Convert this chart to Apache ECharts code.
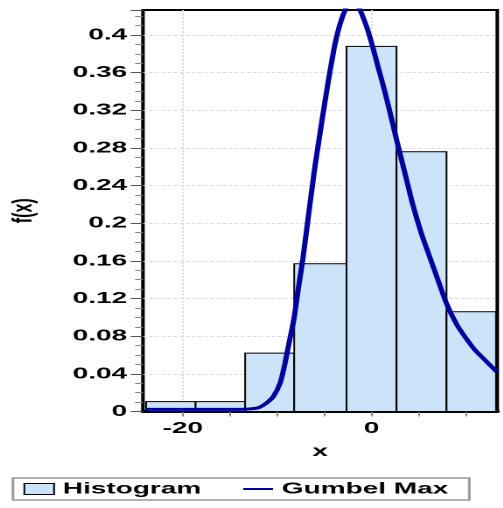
<!DOCTYPE html>
<html><head><meta charset="utf-8">
<script src="https://cdn.jsdelivr.net/npm/echarts@6/dist/echarts.min.js"></script>
<style>
html,body{margin:0;padding:0;background:#fff;overflow:hidden;width:503px;height:508px}
#c{width:287.43px;height:508px;transform:scaleX(1.75);transform-origin:0 0;}
</style>
</head><body><div id="c"></div>
<script>
// ---- data ----
const binEdges = [-23.9, -18.65, -13.4, -8.2, -2.65, 2.65, 7.95, 13.2];
const binDensity = [0.0105, 0.0105, 0.062, 0.157, 0.388, 0.276, 0.106];
const curveX = [-23.9, -18, -15, -13.5, -12.9, -12.0, -11.5, -11.0, -10.4, -9.7, -9.2, -8.7, -8.25, -7.8, -7.27, -6.56, -6.0, -5.3, -4.6, -4.0, -3.5, -2.86, -2.2, -1.45, -0.56, 0.14, 0.67, 1.38, 2.0, 2.7, 3.67, 4.37, 5.26, 6.14, 7.0, 7.94, 9.0, 10.0, 11.0, 12.0, 13.3];
const curveY = [0.0022, 0.0022, 0.0022, 0.0024, 0.0027, 0.004, 0.0065, 0.010, 0.016, 0.030, 0.050, 0.075, 0.097, 0.128, 0.163, 0.218, 0.260, 0.306, 0.350, 0.384, 0.406, 0.425, 0.436, 0.431, 0.410, 0.387, 0.367, 0.341, 0.316, 0.287, 0.248, 0.220, 0.190, 0.165, 0.141, 0.115, 0.093, 0.078, 0.065, 0.055, 0.042];
const xTickValues = [-20, -15, -10, -5, 0, 5, 10];
const xLabelValues = [-20, 0];
const xGridValues = [-20, 0];
const X_MIN = -24.23, X_MAX = 13.33;
const Y_MIN = 0, Y_MAX = 0.4266, Y_STEP = 0.04;
const seriesNames = ['Histogram', 'Gumbel Max'];

const FONT = '"Liberation Sans", Arial, sans-serif';
const BAR_FILL = '#cce4f9';
const LINE_COLOR = '#00009c';
const labelStyle = {fontFamily: FONT, fontSize: 16, fontWeight: 'bold', color: '#000'};

const chart = echarts.init(document.getElementById('c'), null, {renderer: 'canvas', devicePixelRatio: 2});
const histData = binDensity.map((d, i) => [binEdges[i], binEdges[i + 1], d]);
const lineData = curveX.map((x, i) => [x, curveY[i]]);

chart.setOption({
  animation: false,
  backgroundColor: '#fff',
  textStyle: {fontFamily: FONT},
  grid: {left: 81.7, right: 2.86, top: 10, bottom: 96.5, outerBoundsMode: 'none', containLabel: false,
         show: true, borderColor: '#000', borderWidth: 2, backgroundColor: 'transparent'},
  xAxis: [{
    type: 'value', min: X_MIN, max: X_MAX,
    name: 'x', nameLocation: 'middle', nameGap: 32, nameTextStyle: labelStyle,
    axisLine: {onZero: false, lineStyle: {color: '#000', width: 3}},
    axisTick: {show: true, customValues: xTickValues, length: 5, lineStyle: {color: '#888', width: 1}},
    axisLabel: {customValues: xLabelValues, margin: 9, ...labelStyle},
    splitLine: {show: false}
  }, {
    type: 'value', min: X_MIN, max: X_MAX, position: 'bottom',
    axisLine: {show: false, onZero: false},
    axisTick: {show: false, customValues: xGridValues},
    axisLabel: {show: false},
    splitLine: {show: true, lineStyle: {color: '#dcdcdc', type: [2, 1.5], width: 1}}
  }],
  yAxis: {
    type: 'value', min: Y_MIN, max: Y_MAX, interval: Y_STEP,
    name: 'f(x)', nameLocation: 'middle', nameGap: 60, nameRotate: 90, nameTextStyle: labelStyle,
    axisLine: {show: true, onZero: false, lineStyle: {color: '#000', width: 1.2}},
    axisTick: {show: true, length: 7, lineStyle: {color: '#555', width: 1}},
    minorTick: {show: true, splitNumber: 4, length: 4.5, lineStyle: {color: '#888', width: 1}},
    axisLabel: {margin: 9, showMaxLabel: false, ...labelStyle},
    splitLine: {show: true, showMaxLine: false, showMinLine: false, lineStyle: {color: '#dcdcdc', type: [2, 1.5], width: 1}}
  },
  legend: {
    left: 7.4, top: 478, orient: 'horizontal',
    padding: [3, 12, 3, 6], itemGap: 23, itemWidth: 17, itemHeight: 11,
    borderColor: '#999', borderWidth: 1.5,
    textStyle: labelStyle,
    data: [
      {name: seriesNames[0], icon: 'rect', itemStyle: {color: BAR_FILL, borderColor: '#000', borderWidth: 1}},
      {name: seriesNames[1], itemStyle: {color: 'rgba(0,0,0,0)', borderWidth: 0, opacity: 0}}
    ]
  },
  series: [{
    name: seriesNames[0], type: 'custom', z: 2,
    itemStyle: {color: BAR_FILL, borderColor: '#000', borderWidth: 1},
    encode: {x: [0, 1], y: 2},
    data: histData,
    renderItem: function (params, api) {
      const p0 = api.coord([api.value(0), api.value(2)]);
      const p1 = api.coord([api.value(1), 0]);
      return {type: 'rect', shape: {x: p0[0], y: p0[1], width: p1[0] - p0[0], height: p1[1] - p0[1]},
        style: {fill: BAR_FILL, stroke: '#000', lineWidth: 1}};
    }
  }, {
    name: seriesNames[1], type: 'line', z: 3,
    symbol: 'none', showSymbol: false, smooth: 0.25, clip: true,
    lineStyle: {color: LINE_COLOR, width: 3},
    itemStyle: {color: LINE_COLOR},
    data: lineData
  }]
});
</script>
</body></html>
